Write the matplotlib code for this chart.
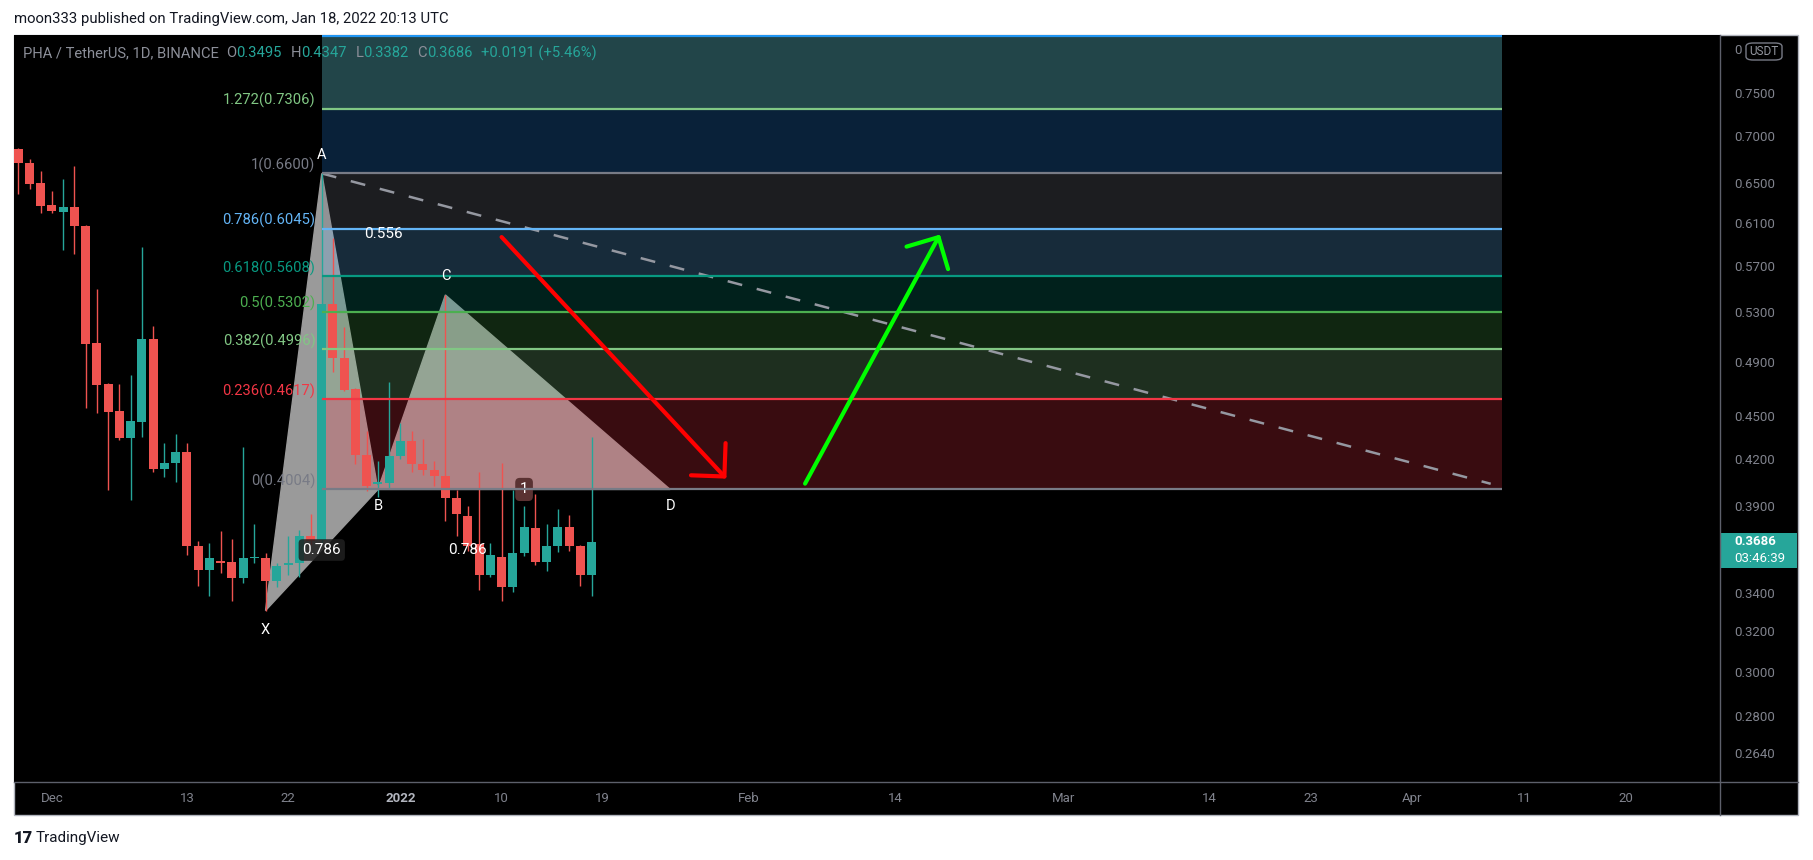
import numpy as np
import pandas as pd
import matplotlib
matplotlib.use("Agg")
import matplotlib.pyplot as plt
import matplotlib.dates as mdates
from matplotlib.patches import Rectangle, Polygon, FancyBboxPatch
from matplotlib.lines import Line2D
from matplotlib.ticker import NullLocator, NullFormatter

plt.rcParams['font.family'] = ['Roboto', 'DejaVu Sans']

W, H = 1813, 860

# PHA / USDT daily candles (Binance)
dates = pd.date_range('2021-11-28', '2022-01-18', freq='D')
opens = [0.6858, 0.6708, 0.6502, 0.6280, 0.6212, 0.6260, 0.6076, 0.5050, 0.4730, 0.4534,
         0.4344, 0.4458, 0.5081, 0.4133, 0.4177, 0.4250, 0.3664, 0.3527, 0.3577, 0.3572,
         0.3480, 0.3592, 0.3594, 0.3465, 0.3552, 0.3563, 0.3722, 0.3696, 0.5367, 0.4928,
         0.4690, 0.4230, 0.4036, 0.4042, 0.4219, 0.4324, 0.4169, 0.4130, 0.4090, 0.3948,
         0.3842, 0.3674, 0.3500, 0.3600, 0.3431, 0.3624, 0.3768, 0.3569, 0.3659, 0.3776,
         0.3659, 0.3495]
highs = [0.6870, 0.6750, 0.6624, 0.6418, 0.6540, 0.6676, 0.6085, 0.5498, 0.4735, 0.4730,
         0.4800, 0.5875, 0.5186, 0.4307, 0.4372, 0.4307, 0.3692, 0.3679, 0.3751, 0.3702,
         0.4280, 0.3791, 0.3620, 0.3562, 0.3720, 0.3756, 0.3854, 0.6600, 0.5956, 0.5178,
         0.4700, 0.4393, 0.4190, 0.4742, 0.4449, 0.4393, 0.4337, 0.4190, 0.5446, 0.4001,
         0.3902, 0.4118, 0.3679, 0.4177, 0.4000, 0.3902, 0.3977, 0.3792, 0.3884, 0.3846,
         0.3668, 0.4347]
lows = [0.6391, 0.6441, 0.6200, 0.6200, 0.5845, 0.5808, 0.4558, 0.4515, 0.4000, 0.4330,
        0.3938, 0.4348, 0.4113, 0.4081, 0.4049, 0.3611, 0.3436, 0.3382, 0.3510, 0.3356,
        0.3455, 0.3562, 0.3306, 0.3431, 0.3495, 0.3486, 0.3670, 0.3680, 0.4825, 0.4680,
        0.4169, 0.3996, 0.3955, 0.4007, 0.4201, 0.4113, 0.4097, 0.4028, 0.3808, 0.3717,
        0.3630, 0.3417, 0.3484, 0.3358, 0.3404, 0.3603, 0.3553, 0.3517, 0.3626, 0.3630,
        0.3436, 0.3382]
closes = [0.6708, 0.6492, 0.6270, 0.6220, 0.6260, 0.6076, 0.5043, 0.4720, 0.4529, 0.4344,
          0.4463, 0.5081, 0.4133, 0.4177, 0.4250, 0.3660, 0.3527, 0.3590, 0.3565, 0.3480,
          0.3594, 0.3600, 0.3462, 0.3548, 0.3567, 0.3722, 0.3690, 0.5367, 0.4928, 0.4686,
          0.4230, 0.4026, 0.4054, 0.4224, 0.4324, 0.4169, 0.4129, 0.4088, 0.3948, 0.3850,
          0.3664, 0.3500, 0.3607, 0.3431, 0.3624, 0.3776, 0.3569, 0.3659, 0.3776, 0.3660,
          0.3495, 0.3686]

# fib retracement drawn from A down to 0
fib_levels = [0, 0.236, 0.382, 0.5, 0.618, 0.786, 1, 1.272, 1.618]
fib_prices = [0.4004, 0.4617, 0.4996, 0.5302, 0.5608, 0.6045, 0.6600, 0.7306, 0.8204]
fib_line_colors = ['#787b86', '#f23645', '#81c784', '#4caf50', '#089981', '#64b5f6',
                   '#787b86', '#81c784', '#2196f3']
zone_colors = ['#f23645', '#81c784', '#4caf50', '#089981', '#64b5f6', '#787b86',
               '#288cf0', '#64c8d2']
zone_alpha = [0.24, 0.24, 0.22, 0.22, 0.24, 0.24, 0.24, 0.35]
fib_start, fib_end = '2021-12-25', '2022-04-09'

# XABCD pattern
pattern_names = ['X', 'A', 'B', 'C', 'D']
pattern_dates = ['2021-12-20', '2021-12-25', '2021-12-30', '2022-01-05', '2022-01-25']
pattern_prices = [0.3306, 0.6600, 0.4004, 0.5446, 0.4004]
ratio_labels = [('0.786', 0, 2), ('0.556', 1, 3), ('1', 2, 4), ('0.786', 0, 4)]

trend_dates = ['2021-12-25', '2022-04-08']
trend_prices = [0.6600, 0.4040]

red_arrow = (['2022-01-10', '2022-01-30'], [0.5968, 0.4073])
green_arrow = (['2022-02-06', '2022-02-18'], [0.4041, 0.5992])

ytick_vals = [0.264, 0.28, 0.30, 0.32, 0.34, 0.39, 0.42, 0.45, 0.49, 0.53, 0.57, 0.61,
              0.65, 0.70, 0.75]
xtick_dates = ['2021-12-01', '2021-12-13', '2021-12-22', '2022-01-01', '2022-01-10',
               '2022-01-19', '2022-02-01', '2022-02-14', '2022-03-01', '2022-03-14',
               '2022-03-23', '2022-04-01', '2022-04-11', '2022-04-20']
xtick_labels = ['Dec', '13', '22', '2022', '10', '19', 'Feb', '14', 'Mar', '14', '23',
                'Apr', '11', '20']

AXC = '#80838d'
UP, DN = '#26a69a', '#ef5350'

fig = plt.figure(figsize=(W / 100, H / 100), dpi=100, facecolor='white')


def fx(p):
    return p / W


def fy(p):
    return 1 - p / H


# chart panel background + frame
fig.add_artist(Rectangle((fx(14), fy(815)), fx(1798 - 14), (815 - 35) / H,
                         transform=fig.transFigure, fc='black', ec='#b2b5be', lw=1, zorder=0))

ax = fig.add_axes([fx(14), fy(782), fx(1720 - 14), (782 - 35) / H])
ax.set_facecolor('black')
for s in ax.spines.values():
    s.set_visible(False)

x = mdates.date2num(dates)
o, h, l, c = map(np.array, (opens, highs, lows, closes))
cols = np.where(c >= o, UP, DN)
ax.vlines(x, l, h, colors=cols, lw=1.0, zorder=4)
bot = np.minimum(o, c)
ax.bar(x, np.maximum(np.abs(c - o), 0.0008), bottom=bot, width=0.8, color=cols, lw=0, zorder=4)

# pattern triangles
px = mdates.date2num(pd.to_datetime(pattern_dates))
pp = pattern_prices
for tri in ([0, 1, 2], [2, 3, 4]):
    ax.add_patch(Polygon([[px[i], pp[i]] for i in tri], closed=True, fc='#9a9a9a',
                         ec='#9a9a9a', lw=1, zorder=1))

# fib zones and lines
fs, fe = mdates.date2num(pd.to_datetime([fib_start, fib_end]))
for i in range(len(fib_prices) - 1):
    ax.fill_between([fs, fe], fib_prices[i], fib_prices[i + 1], color=zone_colors[i],
                    alpha=zone_alpha[i], lw=0, zorder=2)
for p, col in zip(fib_prices, fib_line_colors):
    ax.hlines(p, fs, fe, colors=col, lw=1.6, zorder=5)
for lvl, p, col in zip(fib_levels[:-1], fib_prices[:-1], fib_line_colors[:-1]):
    ax.annotate(f'{lvl:g}({p:.4f})', (fs, p), xytext=(-4.5, 0.5), textcoords='offset points',
                ha='right', va='bottom', color=col, fontsize=10.6, zorder=6)

# dashed trend line
ax.plot(mdates.date2num(pd.to_datetime(trend_dates)), trend_prices, color='#9598a1',
        lw=1.8, dashes=(6, 6), zorder=3)

# pattern point labels
offs = {'X': -14, 'A': 13, 'B': -12, 'C': 14, 'D': -12}
for n, xx, yy in zip(pattern_names, px, pp):
    ax.annotate(n, (xx, yy), xytext=(0, offs[n]), textcoords='offset points', ha='center',
                va='center', color='white', fontsize=10.5, zorder=7)

box_styles = [dict(boxstyle='round,pad=0.25', fc='#202020', ec='none', alpha=0.85), None,
              dict(boxstyle='round,pad=0.3', fc='#5a3232', ec='none'), None]
for (txt, i, j), bb in zip(ratio_labels, box_styles):
    ax.text((px[i] + px[j]) / 2, np.sqrt(pp[i] * pp[j]), txt, ha='center', va='center',
            color='white', fontsize=11, zorder=7 if bb is None or txt != '1' else 4.5, bbox=bb)

# arrows
for (ad, ap), colr in ((red_arrow, '#ff0000'), (green_arrow, '#00ff00')):
    axd = mdates.date2num(pd.to_datetime(ad))
    ax.annotate('', xy=(axd[1], ap[1]), xytext=(axd[0], ap[0]),
                arrowprops=dict(arrowstyle='->,head_length=17,head_width=17', color=colr,
                                lw=3, shrinkA=0, shrinkB=0, mutation_scale=1), zorder=8)

# axes scales / ticks
ax.set_yscale('log')
ax.set_ylim(0.2521, 0.8215)
base = mdates.date2num(pd.Timestamp('2021-12-01'))
ax.set_xlim(base - 3.38, base + 148.4)
ax.yaxis.tick_right()
ax.yaxis.set_minor_locator(NullLocator())
ax.yaxis.set_minor_formatter(NullFormatter())
ax.set_yticks(ytick_vals)
ax.set_yticklabels([f'{v:.4f}' for v in ytick_vals])
ax.tick_params(axis='y', length=0, pad=10, labelsize=9.5, labelcolor=AXC)
ax.set_xticks(mdates.date2num(pd.to_datetime(xtick_dates)))
ax.set_xticklabels(xtick_labels)
ax.tick_params(axis='x', length=0, pad=7, labelsize=9.5, labelcolor=AXC)
lbl = ax.get_xticklabels()[3]
lbl.set_fontweight('bold')
lbl.set_color('#b2b5be')

# separators
fig.add_artist(Line2D([fx(1720), fx(1720)], [fy(35), fy(815)], transform=fig.transFigure,
                      color='#5d606b', lw=1))
fig.add_artist(Line2D([fx(14), fx(1798)], [fy(782), fy(782)], transform=fig.transFigure,
                      color='#5d606b', lw=1))

# USDT unit box, with the top price label peeking out on its left
fig.text(fx(1734), fy(51), '0', ha='left', va='center', fontsize=9.5, color=AXC)
fig.add_artist(FancyBboxPatch((fx(1746), fy(60)), fx(36), 17 / H,
                              boxstyle='round,pad=0,rounding_size=0.004',
                              transform=fig.transFigure, fc='black', ec='#787b86', lw=1))
fig.text(fx(1764), fy(51.5), 'USDT', ha='center', va='center', fontsize=8.5, color='#9598a1')

# last price badge
fig.canvas.draw()
ypix = ax.transData.transform((x[-1], closes[-1]))[1]
fig.add_artist(Rectangle((fx(1721), (ypix - 26) / H), fx(76), 35 / H,
                         transform=fig.transFigure, fc=UP, ec='none'))
fig.text(fx(1734), ypix / H, f'{closes[-1]:.4f}', ha='left', va='center', fontsize=9.5,
         color='white', fontweight='bold')
fig.text(fx(1734), (ypix - 17) / H, '03:46:39', ha='left', va='center', fontsize=9.5,
         color='white')

# header
fig.text(fx(14), fy(19), 'moon333 published on TradingView.com, Jan 18, 2022 20:13 UTC',
         ha='left', va='center', fontsize=10.7, color='#131722')

# legend line
pieces = [('PHA / TetherUS, 1D, BINANCE', '#8c8f99', 7), ('O', '#8c8f99', 0),
          ('0.3495', UP, 9), ('H', '#8c8f99', 0), ('0.4347', UP, 9), ('L', '#8c8f99', 0),
          ('0.3382', UP, 9), ('C', '#8c8f99', 0), ('0.3686', UP, 9),
          ('+0.0191 (+5.46%)', UP, 0)]
r = fig.canvas.get_renderer()
cx = 23
for txt, colr, gap in pieces:
    t = fig.text(fx(cx), fy(53), txt, ha='left', va='center', fontsize=10.6, color=colr)
    cx += t.get_window_extent(r).width + gap

# footer brand
fig.text(fx(14), fy(838), '17', ha='left', va='center', fontsize=12, fontweight='black',
         color='#131722')
fig.text(fx(36), fy(838), 'TradingView', ha='left', va='center', fontsize=11,
         color='#131722')

fig.savefig('out.png', dpi=100, facecolor='white')
